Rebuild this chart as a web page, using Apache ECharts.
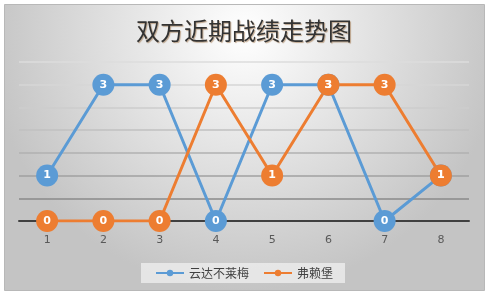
<!DOCTYPE html>
<html>
<head>
<meta charset="utf-8">
<script src="https://cdn.jsdelivr.net/npm/echarts@6/dist/echarts.min.js"></script>
<style>
html,body{margin:0;padding:0;background:#fff;}
#main{width:488px;height:296px;}
</style>
</head>
<body>
<div id="main"></div>
<script>
var matches = ['1', '2', '3', '4', '5', '6', '7', '8'];
var werderBremen = [1, 3, 3, 0, 3, 3, 0, 1];
var freiburg = [0, 0, 0, 3, 1, 3, 3, 1];
var teamNames = ['云达不莱梅', '弗赖堡'];

var chart = echarts.init(document.getElementById('main'));

function lineSeries(name, data, color) {
    return {
        name: name,
        type: 'line',
        data: data,
        symbol: 'circle',
        symbolSize: 22,
        itemStyle: { color: color },
        lineStyle: { color: color, width: 3 },
        label: {
            show: true,
            position: 'inside',
            color: '#fff',
            fontSize: 11,
            fontWeight: 'bold',
            fontFamily: 'DejaVu Sans'
        },
        emphasis: { disabled: true },
        animation: false
    };
}

var option = {
    animation: false,
    graphic: [{
        type: 'rect',
        z: -10,
        shape: { x: 4.5, y: 4.5, width: 480, height: 286 },
        style: {
            fill: new echarts.graphic.RadialGradient(0.5, 0.1, 0.9, [
                { offset: 0, color: '#ffffff' },
                { offset: 1, color: '#c4c4c4' }
            ]),
            stroke: '#b8b8b8',
            lineWidth: 1
        }
    }],
    title: {
        text: '双方近期战绩走势图',
        left: 'center',
        top: 14,
        textStyle: {
            fontSize: 24,
            fontWeight: 'normal',
            color: '#333333',
            fontFamily: 'Noto Sans CJK SC',
            textShadowColor: 'rgba(140,90,40,0.5)',
            textShadowBlur: 1,
            textShadowOffsetX: 1,
            textShadowOffsetY: 1
        }
    },
    legend: {
        data: teamNames,
        bottom: 13,
        left: 'center',
        itemWidth: 28,
        itemHeight: 8,
        itemGap: 14,
        padding: [4, 12, 4, 14],
        backgroundColor: 'rgba(238,238,238,0.8)',
        textStyle: { color: '#404040', fontSize: 12, fontFamily: 'Noto Sans CJK SC' }
    },
    grid: { left: 19, right: 19, top: 62, bottom: 75 },
    xAxis: {
        type: 'category',
        data: matches,
        boundaryGap: true,
        axisLine: { lineStyle: { color: '#404040', width: 2 } },
        axisTick: { show: false },
        axisLabel: { color: '#595959', fontSize: 11, margin: 14, fontFamily: 'DejaVu Sans' }
    },
    yAxis: {
        type: 'value',
        min: 0,
        max: 3.5,
        interval: 0.5,
        axisLabel: { show: false },
        axisLine: { show: false },
        axisTick: { show: false },
        splitLine: {
            lineStyle: {
                width: 1.5,
                color: ['#808080', '#8a8a8a', '#a0a0a0', '#b0b0b0', '#c0c0c0', '#cccccc', '#d6d6d6', '#dddddd']
            }
        }
    },
    series: [
        lineSeries(teamNames[0], werderBremen, '#5b9bd5'),
        lineSeries(teamNames[1], freiburg, '#ed7d31')
    ]
};
chart.setOption(option);
</script>
</body>
</html>
